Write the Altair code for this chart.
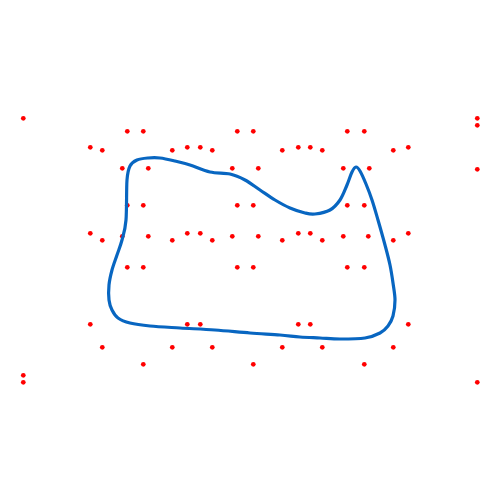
import altair as alt
import pandas as pd

# red points (x, y in picture units; y grows downward)
px = [23.3, 127.3, 143.3, 237.3, 90.3, 102.3, 172.3, 187.3, 200.3, 212.3,
      122.3, 148.3, 232.3, 127.3, 143.3, 237.3,
      90.3, 102.3, 122.3, 148.3, 172.3, 187.3, 200.3, 212.3, 232.3,
      253.3, 347.3, 364.3, 477.3, 477.3,
      282.3, 298.3, 310.3, 322.3, 393.3, 408.3,
      258.3, 343.3, 369.3, 477.3,
      253.3, 347.3, 364.3,
      258.3, 282.3, 298.3, 310.3, 322.3, 343.3, 368.3, 393.3, 408.3,
      127.3, 143.3, 237.3, 90.3, 187.3, 200.3, 102.3, 172.3, 212.3, 143.3, 23.3, 23.3,
      253.3, 347.3, 364.3, 298.3, 310.3, 408.3, 282.3, 322.3, 393.3, 253.3, 364.3, 477.3]
py = [118.3, 131.3, 131.3, 131.3, 147.3, 150.3, 150.3, 147.3, 147.3, 150.3,
      168.3, 168.3, 168.3, 205.3, 205.3, 205.3,
      233.3, 240.3, 236.3, 236.3, 240.3, 233.3, 233.3, 240.3, 236.3,
      131.3, 131.3, 131.3, 118.3, 125.3,
      150.3, 147.3, 147.3, 150.3, 150.3, 147.3,
      168.3, 168.3, 168.3, 169.3,
      205.3, 205.3, 205.3,
      236.3, 240.3, 233.3, 233.3, 240.3, 236.3, 236.3, 240.3, 233.3,
      267.3, 267.3, 267.3, 324.3, 324.3, 324.3, 347.3, 347.3, 347.3, 364.3, 375.3, 382.3,
      267.3, 267.3, 267.3, 324.3, 324.3, 324.3, 347.3, 347.3, 347.3, 364.3, 364.3, 382.3]

# closed curve, read along its path
cx = [126, 127, 130, 137, 148, 160, 175, 190, 210, 230, 245, 260, 275, 290, 305, 315,
      330, 340, 347, 352, 356, 360, 366, 372, 378, 385, 390, 393, 395, 393, 388, 380,
      365, 340, 320, 300, 280, 250, 215, 180, 150, 130, 118, 112, 109, 109, 112, 117, 122]
cy = [220, 180, 166, 160, 158, 158, 161, 165, 172, 174, 180, 190, 200, 208, 213, 214,
      210, 200, 185, 172, 167, 171, 184, 200, 220, 245, 265, 283, 300, 316, 326, 333,
      338, 339, 338, 337, 335, 333, 330, 328, 326, 323, 318, 310, 300, 285, 270, 255, 240]

pts = pd.DataFrame({"x": px, "y": py})
curve = pd.DataFrame({"x": cx, "y": cy, "order": list(range(len(cx)))})

xs = alt.Scale(domain=[0, 500], nice=False, zero=False)
ys = alt.Scale(domain=[500, 0], nice=False, zero=False)

line = alt.Chart(curve).mark_line(
    interpolate="cardinal-closed", color="#0866c1", strokeWidth=3.2
).encode(
    x=alt.X("x:Q", scale=xs, axis=None),
    y=alt.Y("y:Q", scale=ys, axis=None),
    order="order:Q",
)

dots = alt.Chart(pts).mark_circle(color="#ff0000", size=22, opacity=1).encode(
    x=alt.X("x:Q", scale=xs, axis=None),
    y=alt.Y("y:Q", scale=ys, axis=None),
)

chart = alt.layer(dots, line).properties(
    width=500, height=500, autosize=alt.AutoSizeParams(type="none"), padding=0
).configure_view(stroke=None)

chart.save("out.html", embed_options={"renderer": "svg", "actions": False})
